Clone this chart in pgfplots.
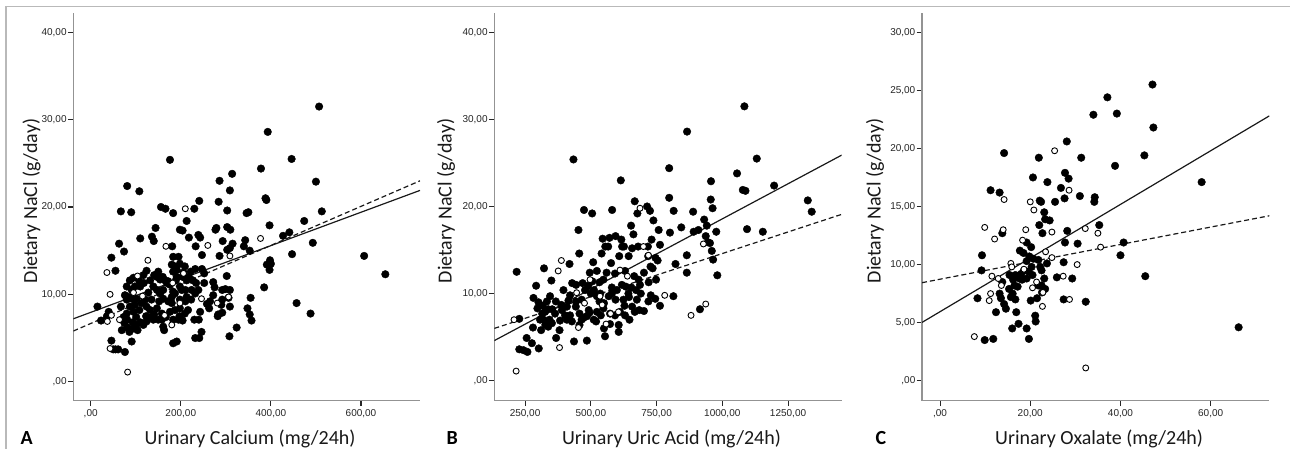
\documentclass[border=0pt]{standalone}
\usepackage{fontspec}
\setmainfont{Carlito}
\newfontfamily\tickfont{Liberation Sans}
\usepackage{pgfplots}
\pgfplotsset{compat=1.18}

\pgfplotsset{
  spss/.style={
    scale only axis, height=387.7pt,
    axis x line*=bottom, axis y line*=left,
    axis line style={-, draw=gray!85, line width=1.3pt},
    tick align=outside, major tick length=5.5pt,
    tick style={black!85, line width=1.1pt},
    ticklabel style={font=\tickfont\fontsize{10}{11}\selectfont, text=black!85},
    yticklabel style={inner sep=1pt},
    label style={font=\fontsize{20}{22}\selectfont, text=black!90},
    xlabel style={at={(axis description cs:0.51,0)}, anchor=base, yshift=-44.3pt},
    ylabel={Dietary NaCl (g/day)},
    ytick={0,10,20,30,40},
    yticklabels={{,00},{10,00},{20,00},{30,00},{40,00}},
  },
  filled/.style={only marks, mark=*, mark size=3.8pt, mark options={fill=black, draw=black}},
  hollow/.style={only marks, mark=*, mark size=3pt, mark options={fill=white, draw=black, line width=0.9pt}},
  fit/.style={no marks, black!90, line width=1.2pt},
  fitdash/.style={no marks, black!90, line width=1.2pt, dash pattern=on 5pt off 3pt},
}

\begin{document}
\begin{tikzpicture}
\useasboundingbox (0pt,0pt) rectangle (1290pt,449pt);
\fill[white] (0pt,0pt) rectangle (1290pt,449pt);
\draw[gray!55, line width=1.5pt] (6pt,0pt) -- (6pt,442.5pt) -- (1290pt,442.5pt);

% ---------------- A: calcium
\begin{axis}[spss, at={(73.3pt,48.3pt)}, anchor=south west, width=346.7pt,
  xmin=-38.6, xmax=731, ymin=-2.175, ymax=42.21,
  xtick={0,200,400,600}, xticklabels={{,00},{200,00},{400,00},{600,00}},
  xlabel={Urinary Calcium (mg/24h)},
  ylabel style={at={(axis description cs:-0.104,0.515)}, anchor=base}]
\addplot[filled] coordinates {
(507,31.5)(393,28.6)(176,25.4)(446,25.5)(378,24.4)(314,23.8)(286,23.0)(500,22.9)(81,22.4)(108,21.8)
(309,21.9)(388,21.0)(390,20.8)(241,20.7)(284,20.6)(67,19.5)(90,19.4)(156,20.0)(166,19.8)(183,19.3)
(230,19.8)(303,19.6)(346,19.3)(350,19.4)(513,19.5)(198,17.4)(204,17.3)(213,18.4)(144,17.6)(277,17.4)
(279,17.6)(303,17.7)(310,17.4)(397,17.9)(474,18.4)(441,17.1)(427,16.7)(110,16.4)(136,16.6)(140,16.1)
(218,16.5)(239,16.8)(243,16.5)(233,15.5)(293,16.1)(303,15.1)(309,15.3)(315,15.8)(63,15.8)(74,14.9)
(181,15.5)(46,14.2)(55,12.7)(247,14.5)(286,14.4)(343,16.2)(340,15.5)(353,15.0)(447,14.6)(607,14.4)
(654,12.3)(398,13.9)(400,13.5)(391,13.4)(397,12.8)(385,10.8)(493,15.9)(457,9.0)(488,7.8)(355,9.6)
(348,8.4)(353,7.7)(357,7.0)(324,6.2)(308,5.2)(246,5.7)(241,5.0)(232,5.0)(230,7.1)(240,7.1)
(243,8.0)(263,8.4)(258,8.9)(252,12.4)(247,12.9)(252,11.3)(272,11.4)(275,10.8)(292,10.5)(299,10.6)
(302,12.1)(292,9.4)(290,8.8)(283,7.7)(292,7.9)(306,9.6)(309,8.6)(282,7.5)(191,4.6)(183,4.4)
(91,4.6)(46,4.7)(50,3.7)(61,3.7)(76,3.4)(55,3.7)(15,8.6)(23,7.0)(36,7.5)(40,8.0)
(67,8.6)(80,10.9)(87,11.6)(95,11.9)(104,11.9)(108,11.5)(118,11.3)(132,11.6)(147,12.0)(154,11.7)
(160,12.0)(169,11.3)(180,13.4)(183,14.3)(187,13.2)(191,12.8)(198,13.5)(204,12.0)(195,14.3)(213,11.6)
(218,12.0)(227,11.6)(224,10.5)(210,10.5)(198,10.9)(187,10.1)(180,9.7)(180,9.0)(172,9.2)(161,9.5)
(152,9.2)(147,8.4)(141,7.7)(158,7.8)(158,7.1)(167,7.4)(176,8.0)(187,8.2)(197,7.5)(204,7.0)
(209,7.8)(216,8.2)(198,8.4)(210,9.2)(198,9.4)(139,10.9)(128,10.2)(121,9.4)(113,9.0)(108,8.2)
(123,7.5)(132,8.2)(135,7.4)(124,6.9)(110,6.8)(102,6.5)(93,6.8)(101,7.4)(95,8.0)(87,8.6)
(80,9.4)(76,9.9)(84,9.7)(91,9.5)(102,9.5)(98,8.8)(80,7.8)(73,7.4)(81,7.1)(75,6.7)
(69,5.9)(82,6.2)(95,6.1)(86,5.7)(104,5.9)(117,6.5)(139,7.1)(150,7.1)(161,6.3)(163,5.9)
(183,7.1)(195,7.1)(202,10.5)(213,9.7)(223,9.4)(232,10.1)(239,10.5)(234,11.3)(222,12.6)(232,12.9)
(265,9.2)(272,9.9)(154,10.1)(161,10.5)(135,9.4)(124,8.6)(147,10.5)(165,11.6)(176,11.1)(183,10.3)
(191,12.0)(189,11.6)(183,12.6)(172,11.5)(209,13.2)(206,12.5)(117,12.2)(124,12.7)(110,10.9)(98,10.9)
(91,10.5)(141,12.2)(150,12.6)(309,10.5)
};
\addplot[hollow] coordinates {
(36,12.5)(43,10.0)(37,6.9)(46,7.6)(64,7.1)(43,3.8)(82,1.1)(127,13.9)(95,10.2)(115,9.8)
(104,12.1)(167,15.5)(210,19.8)(260,15.6)(377,16.4)(180,6.5)(182,11.3)(198,9.0)(206,12.4)(246,9.5)
(281,9.0)(306,9.7)(309,14.4)(164,7.6)
};
\addplot[fit] coordinates {(-38.6,7.2)(731,21.9)};
\addplot[fitdash] coordinates {(-38.6,5.8)(731,23.0)};
\end{axis}

% ---------------- B: uric acid
\begin{axis}[spss, at={(494.3pt,48.3pt)}, anchor=south west, width=347.4pt,
  xmin=133, xmax=1454, ymin=-2.30, ymax=42.22,
  xtick={250,500,750,1000,1250}, xticklabels={{250,00},{500,00},{750,00},{1000,00},{1250,00}},
  xlabel={Urinary Uric Acid (mg/24h)},
  ylabel style={at={(axis description cs:-0.123,0.515)}, anchor=base}]
\addplot[filled] coordinates {
(1084,31.5)(866,28.6)(434,25.4)(1131,25.5)(798,24.4)(1056,23.8)(614,23.0)(957,22.9)(1197,22.4)(1078,21.9)
(1088,21.8)(798,21.0)(667,20.6)(956,20.8)(1325,20.7)(1340,19.4)(474,19.6)(505,19.2)(581,19.6)(714,20.0)
(725,19.5)(815,19.5)(889,19.4)(963,19.8)(677,19.2)(738,18.4)(931,18.5)(941,17.8)(453,17.3)(653,17.8)
(662,16.8)(758,17.3)(801,17.0)(844,17.6)(891,17.1)(909,17.3)(977,17.1)(1094,17.4)(1154,17.1)(545,16.3)
(571,16.4)(594,16.6)(616,16.2)(555,15.4)(566,15.4)(619,15.4)(626,15.4)(680,15.4)(717,15.4)(731,16.2)
(763,15.6)(865,14.4)(937,16.6)(945,15.9)(953,15.8)(960,14.9)(965,13.9)(981,12.1)(865,12.4)(822,13.4)
(814,9.7)(915,8.2)(456,14.6)(419,13.4)(509,13.6)(541,14.6)(577,13.5)(608,14.3)(644,14.3)(657,15.2)
(718,14.3)(746,14.1)(754,13.8)(727,13.1)(735,12.9)(702,12.4)(748,11.6)(720,11.3)(682,11.6)(665,12.0)
(630,12.6)(592,12.3)(560,12.4)(523,12.6)(548,11.6)(533,11.3)(496,12.4)(506,11.4)(490,10.9)(469,11.2)
(478,10.4)(512,10.4)(500,10.0)(523,9.7)(533,9.1)(550,8.9)(568,9.7)(580,10.7)(599,10.4)(618,11.0)
(633,10.8)(643,10.0)(654,10.7)(672,10.4)(687,11.0)(690,10.0)(675,9.3)(657,8.5)(667,7.9)(684,8.1)
(702,8.0)(719,9.1)(728,9.8)(763,8.6)(745,9.4)(647,7.0)(606,6.4)(606,5.6)(554,5.1)(485,4.6)
(436,4.5)(368,4.9)(343,7.0)(315,7.7)(297,8.3)(301,9.0)(333,9.1)(345,9.7)(367,9.1)(388,8.7)
(409,8.5)(421,9.8)(444,11.0)(429,11.2)(443,8.5)(457,7.7)(472,7.2)(485,7.4)(495,7.8)(511,7.0)
(492,8.1)(523,7.9)(538,7.5)(548,8.3)(573,7.7)(592,7.5)(611,7.9)(630,7.5)(409,7.0)(381,5.8)
(352,6.6)(338,6.2)(327,6.4)(311,5.8)(320,7.0)(307,7.0)(280,6.1)(276,4.3)(302,3.7)(256,4.9)
(228,3.6)(244,3.5)(259,3.3)(218,12.5)(228,7.1)(292,10.9)(282,9.5)(322,12.9)(350,11.5)(396,10.4)
(415,9.2)(444,9.1)(465,9.3)(390,8.1)(402,7.5)(421,7.5)(428,6.8)(383,6.9)(364,7.7)(353,8.2)
(338,8.2)(326,7.9)(317,8.6)(457,6.4)(465,7.0)(520,6.8)(550,6.0)(573,6.5)(536,10.0)(580,10.0)
(594,9.3)(624,9.3)(628,8.6)(645,9.6)
};
\addplot[hollow] coordinates {
(216,1.1)(208,7.0)(376,12.6)(388,13.8)(381,3.8)(446,10.1)(453,6.1)(476,8.9)(497,11.6)(535,9.7)
(543,8.7)(558,6.5)(575,7.7)(605,7.9)(611,12.7)(639,12.0)(687,19.8)(700,15.4)(719,14.4)(781,9.8)
(881,7.5)(937,8.8)(928,15.7)
};
\addplot[fit] coordinates {(133,4.6)(1454,25.9)};
\addplot[fitdash] coordinates {(133,6.0)(1454,19.1)};
\end{axis}

% ---------------- C: oxalate
\begin{axis}[spss, at={(922pt,48.3pt)}, anchor=south west, width=347.3pt,
  xmin=-4, xmax=73, ymin=-1.72, ymax=31.66,
  ytick={0,5,10,15,20,25,30},
  yticklabels={{,00},{5,00},{10,00},{15,00},{20,00},{25,00},{30,00}},
  xtick={0,20,40,60}, xticklabels={{,00},{20,00},{40,00},{60,00}},
  xlabel={Urinary Oxalate (mg/24h)},
  ylabel style={at={(axis description cs:-0.119,0.515)}, anchor=base}]
\addplot[filled] coordinates {
(47.1,25.5)(37.1,24.4)(34.0,22.9)(39.2,23.0)(47.3,21.8)(28.1,20.6)(14.2,19.6)(21.9,19.2)(31.3,19.2)(45.3,19.4)
(38.8,18.5)(27.7,17.9)(28.5,17.4)(20.6,17.5)(23.8,17.1)(58.0,17.1)(11.2,16.4)(13.2,16.2)(26.8,16.6)(22.1,15.5)
(22.4,15.4)(25.5,15.4)(27.6,15.7)(31.0,15.9)(34.3,15.8)(34.2,15.4)(23.1,14.5)(35.3,13.4)(23.3,13.9)(24.3,13.8)
(22.0,13.4)(13.8,12.7)(22.7,12.7)(28.2,12.9)(27.7,11.9)(30.5,11.8)(40.7,11.9)(40.0,10.8)(45.5,9.0)(66.2,4.6)
(9.3,10.8)(9.2,9.5)(8.3,7.1)(9.9,3.5)(11.8,3.6)(12.4,5.9)(13.2,7.5)(13.5,7.1)(14.2,6.6)(14.6,6.2)
(13.8,8.5)(15.4,9.1)(15.3,7.9)(16.1,7.5)(15.7,7.2)(16.5,8.2)(16.7,7.0)(16.9,5.9)(16.0,4.5)(17.4,4.9)
(19.2,4.5)(19.7,3.6)(21.1,5.6)(21.2,5.1)(21.5,7.1)(20.1,6.9)(18.0,9.2)(18.2,8.7)(17.6,8.8)(17.7,11.2)
(18.5,11.0)(19.2,11.9)(20.2,11.5)(19.2,10.3)(19.8,10.7)(20.7,10.5)(20.3,9.8)(19.6,9.4)(20.5,9.1)(19.2,8.8)
(18.6,9.5)(21.8,10.4)(22.2,9.8)(22.5,9.5)(23.1,8.8)(22.5,8.2)(21.8,8.2)(23.3,7.9)(22.6,7.6)(23.7,10.1)
(25.9,8.9)(27.4,10.2)(27.4,7.0)(29.3,8.8)(32.3,6.8)(16.7,9.1)(16.2,8.7)(17.2,8.1)
};
\addplot[hollow] coordinates {
(7.6,3.8)(32.3,1.1)(9.9,13.2)(12.1,12.2)(14.0,13.0)(14.2,15.6)(11.5,9.0)(12.9,8.8)(11.2,7.5)(10.9,6.9)
(13.6,8.2)(15.7,10.1)(15.9,9.8)(18.3,12.1)(19.0,13.0)(18.6,9.6)(20.0,15.4)(20.8,14.7)(21.4,8.5)(20.5,8.0)
(22.8,7.6)(22.7,6.4)(23.4,11.1)(24.8,12.8)(24.8,10.6)(25.4,19.8)(27.3,9.0)(28.7,7.0)(28.6,16.4)(30.4,10.0)
(32.2,13.1)(35.0,12.7)(35.6,11.5)
};
\addplot[fit] coordinates {(-4,5.02)(73,22.8)};
\addplot[fitdash] coordinates {(-4,8.44)(73,14.2)};
\end{axis}

\node[anchor=base west, font=\bfseries\fontsize{20}{21}\selectfont] at (17pt,4pt) {A};
\node[anchor=base west, font=\bfseries\fontsize{20}{21}\selectfont] at (443pt,4pt) {B};
\node[anchor=base west, font=\bfseries\fontsize{20}{21}\selectfont] at (872pt,4pt) {C};
\end{tikzpicture}
\end{document}
